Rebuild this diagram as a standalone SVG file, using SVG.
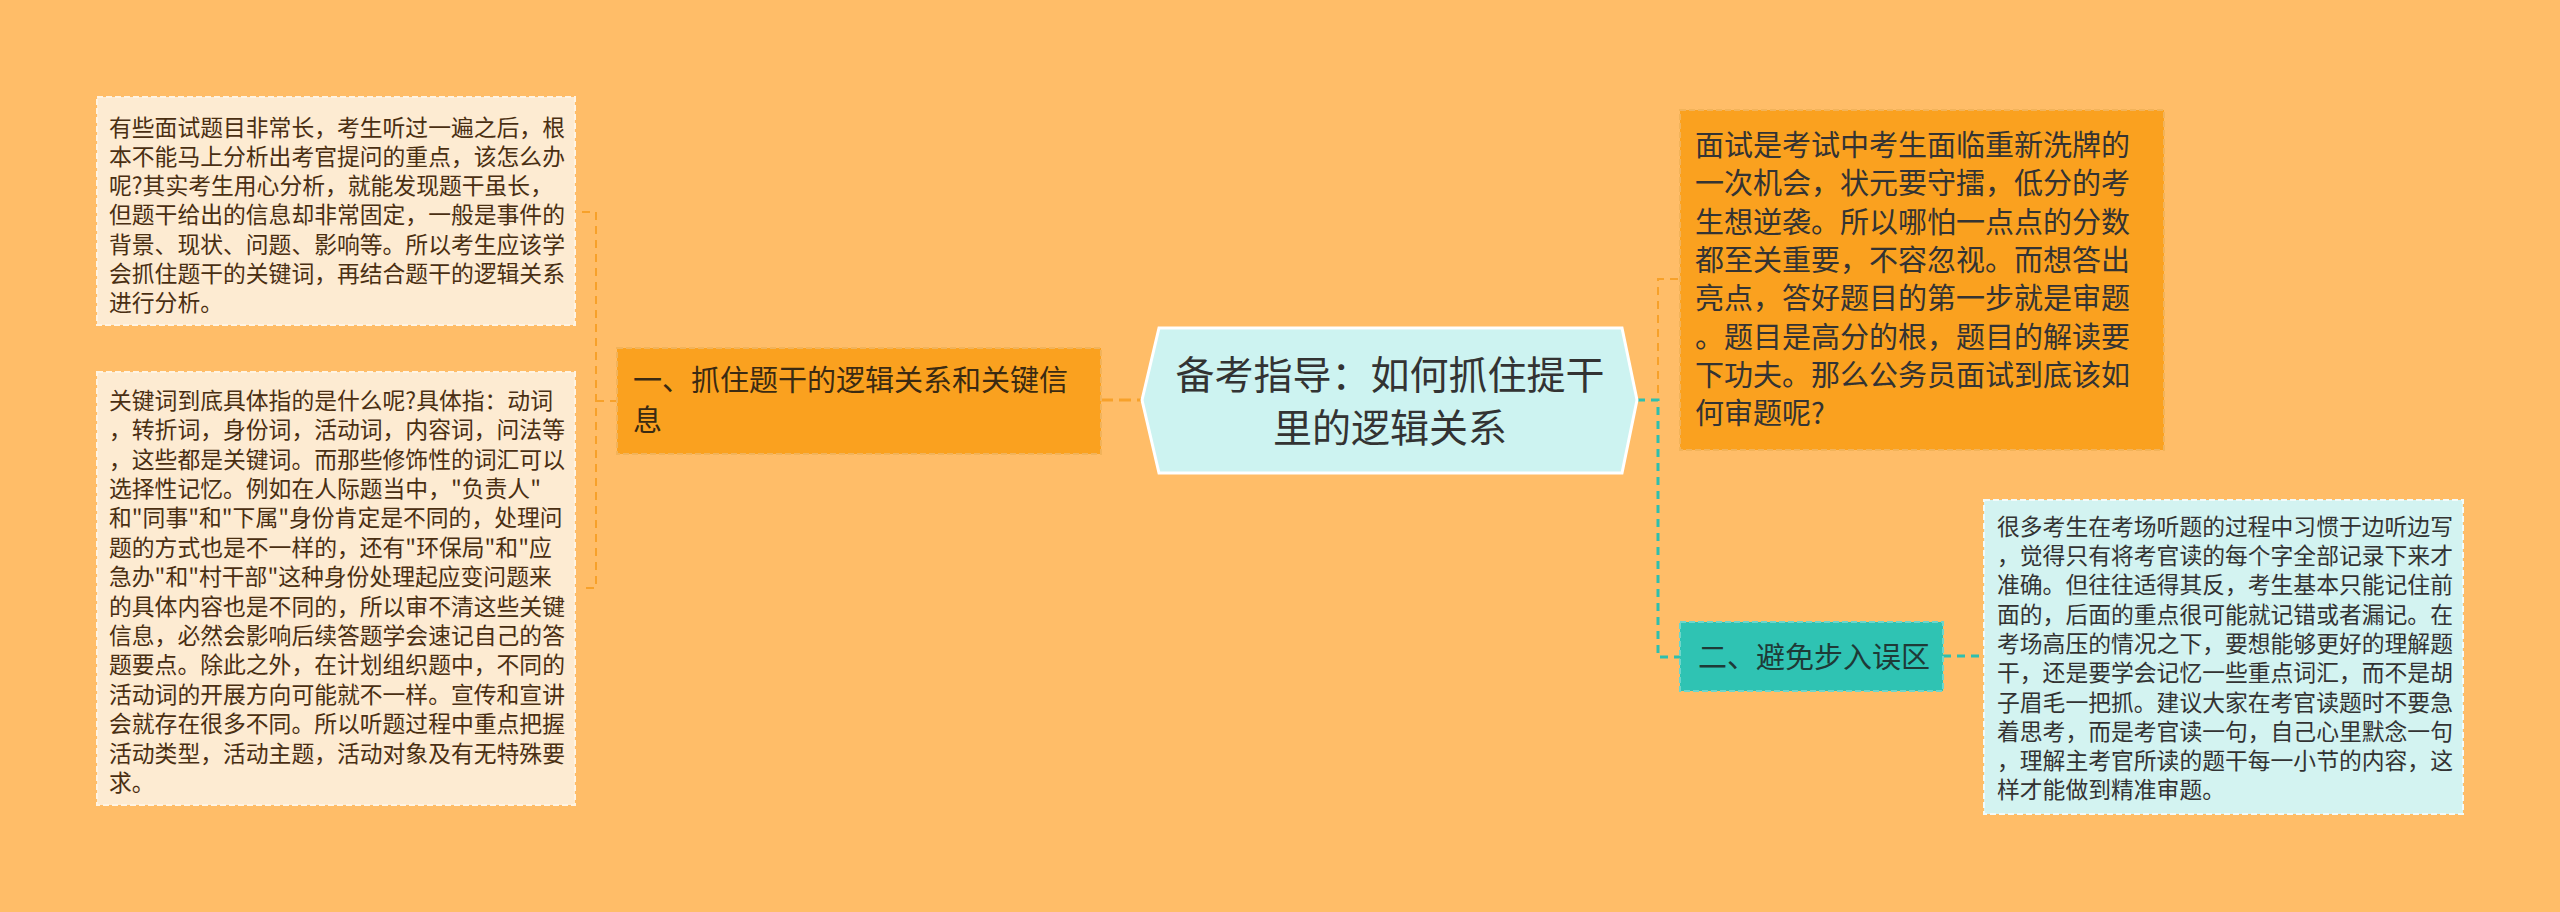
<svg xmlns="http://www.w3.org/2000/svg" width="2560" height="912" viewBox="0 0 2560 912">
<style>
text{font-family:"Noto Sans CJK SC","Noto Sans",sans-serif;}
.sm{font-size:22.8px;fill:#4a2f12;}
.smc{font-size:22.8px;fill:#333333;}
.md{font-size:29px;fill:#3a2a12;}
.mdr{font-size:29px;fill:#333333;}
.lg{font-size:39px;fill:#333333;}
.cream{fill:#FDEBD2;stroke:#FFF4E3;stroke-width:2;stroke-dasharray:6 3;}
.orange{fill:#FAA11F;stroke:#F2B35A;stroke-width:2;stroke-dasharray:6 3;}
.teal{fill:#2FC3B3;stroke:#6ED6CB;stroke-width:2;stroke-dasharray:6 3;}
.cyan{fill:#D3F3F1;stroke:#F2FBFA;stroke-width:2;stroke-dasharray:6 3;}
.co{fill:none;stroke:#F7A12A;stroke-width:2;stroke-dasharray:8 6;}
.coT{fill:none;stroke:#F7A12A;stroke-width:3;stroke-dasharray:12 6;}
.ct{fill:none;stroke:#2EBFAE;stroke-width:3;stroke-dasharray:8 6;}
</style>
<rect x="0" y="0" width="2560" height="912" fill="#FFBD68"/>
<g id="connectors">
<path class="co" d="M582 212 H596 V588 H582"/>
<path class="co" d="M596 401 H617"/>
<path class="coT" d="M1101 400 H1142"/>
<path class="co" d="M1637 400 H1658 V279 H1680"/>
<path class="ct" d="M1637 400 H1658 V657 H1680"/>
<path class="ct" d="M1943 656 H1984"/>
</g>
<g id="center">
<polygon points="1142,400 1159,328 1622,328 1637,400 1622,473 1159,473" fill="#CDF3F1" stroke="#FFFFFF" stroke-width="3"/>
<text class="lg" text-anchor="middle"><tspan x="1390" y="389">备考指导：如何抓住提干</tspan><tspan x="1390" y="442">里的逻辑关系</tspan></text>
</g>
<g id="topic1">
<rect class="orange" x="617" y="348" width="484" height="106"/>
<text class="md"><tspan x="633" y="391">一、抓住题干的逻辑关系和关键信</tspan><tspan x="633" y="431">息</tspan></text>
</g>
<g id="leaf1">
<rect class="cream" x="97" y="97" width="478" height="228"/>
<text class="sm">
<tspan x="109" y="135.7">有些面试题目非常长，考生听过一遍之后，根</tspan>
<tspan x="109" y="164.9">本不能马上分析出考官提问的重点，该怎么办</tspan>
<tspan x="109" y="194.1">呢?其实考生用心分析，就能发现题干虽长，</tspan>
<tspan x="109" y="223.3">但题干给出的信息却非常固定，一般是事件的</tspan>
<tspan x="109" y="252.5">背景、现状、问题、影响等。所以考生应该学</tspan>
<tspan x="109" y="281.7">会抓住题干的关键词，再结合题干的逻辑关系</tspan>
<tspan x="109" y="310.9">进行分析。</tspan>
</text>
</g>
<g id="leaf2">
<rect class="cream" x="97" y="372" width="478" height="433"/>
<text class="sm">
<tspan x="109" y="408.7">关键词到底具体指的是什么呢?具体指：动词</tspan>
<tspan x="109" y="438.1">，转折词，身份词，活动词，内容词，问法等</tspan>
<tspan x="109" y="467.5">，这些都是关键词。而那些修饰性的词汇可以</tspan>
<tspan x="109" y="496.9">选择性记忆。例如在人际题当中，"负责人"</tspan>
<tspan x="109" y="526.3">和"同事"和"下属"身份肯定是不同的，处理问</tspan>
<tspan x="109" y="555.7">题的方式也是不一样的，还有"环保局"和"应</tspan>
<tspan x="109" y="585.1">急办"和"村干部"这种身份处理起应变问题来</tspan>
<tspan x="109" y="614.5">的具体内容也是不同的，所以审不清这些关键</tspan>
<tspan x="109" y="643.9">信息，必然会影响后续答题学会速记自己的答</tspan>
<tspan x="109" y="673.3">题要点。除此之外，在计划组织题中，不同的</tspan>
<tspan x="109" y="702.7">活动词的开展方向可能就不一样。宣传和宣讲</tspan>
<tspan x="109" y="732.1">会就存在很多不同。所以听题过程中重点把握</tspan>
<tspan x="109" y="761.5">活动类型，活动主题，活动对象及有无特殊要</tspan>
<tspan x="109" y="790.9">求。</tspan>
</text>
</g>
<g id="leaf3">
<rect class="orange" x="1680" y="110" width="484" height="340"/>
<text class="mdr">
<tspan x="1695" y="156">面试是考试中考生面临重新洗牌的</tspan>
<tspan x="1695" y="194.3">一次机会，状元要守擂，低分的考</tspan>
<tspan x="1695" y="232.6">生想逆袭。所以哪怕一点点的分数</tspan>
<tspan x="1695" y="270.9">都至关重要，不容忽视。而想答出</tspan>
<tspan x="1695" y="309.2">亮点，答好题目的第一步就是审题</tspan>
<tspan x="1695" y="347.5">。题目是高分的根，题目的解读要</tspan>
<tspan x="1695" y="385.8">下功夫。那么公务员面试到底该如</tspan>
<tspan x="1695" y="424.1">何审题呢?</tspan>
</text>
</g>
<g id="topic2">
<rect class="teal" x="1680" y="622" width="263" height="69"/>
<text class="md" x="1698" y="668" fill="#1E3A37" style="fill:#1E3A37">二、避免步入误区</text>
</g>
<g id="leaf4">
<rect class="cyan" x="1984" y="500" width="479" height="314"/>
<text class="smc">
<tspan x="1997" y="534.7">很多考生在考场听题的过程中习惯于边听边写</tspan>
<tspan x="1997" y="564">，觉得只有将考官读的每个字全部记录下来才</tspan>
<tspan x="1997" y="593.3">准确。但往往适得其反，考生基本只能记住前</tspan>
<tspan x="1997" y="622.6">面的，后面的重点很可能就记错或者漏记。在</tspan>
<tspan x="1997" y="651.9">考场高压的情况之下，要想能够更好的理解题</tspan>
<tspan x="1997" y="681.2">干，还是要学会记忆一些重点词汇，而不是胡</tspan>
<tspan x="1997" y="710.5">子眉毛一把抓。建议大家在考官读题时不要急</tspan>
<tspan x="1997" y="739.8">着思考，而是考官读一句，自己心里默念一句</tspan>
<tspan x="1997" y="769.1">，理解主考官所读的题干每一小节的内容，这</tspan>
<tspan x="1997" y="798.4">样才能做到精准审题。</tspan>
</text>
</g>
</svg>
